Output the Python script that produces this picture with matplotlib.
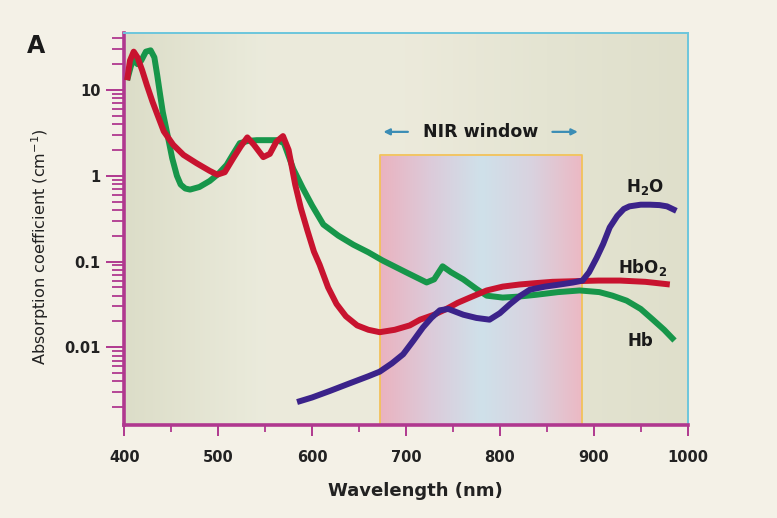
import numpy as np
import matplotlib.pyplot as plt
from matplotlib.colors import LinearSegmentedColormap
from matplotlib.ticker import LogLocator, NullFormatter, FixedLocator

# values (wavelength in nm, absorption coefficient in 1/cm)
hb_nm = [403, 407, 410, 414, 418, 423, 428, 432, 435, 438, 441, 446, 451, 456, 460, 465, 470, 480, 491,
         500, 509, 516, 523, 532, 541, 552, 563, 570, 580, 590, 600, 612, 628, 644,
         660, 675, 700, 722, 730, 739, 748, 761, 775, 786, 803, 820, 839, 862, 885,
         906, 920, 935, 950, 963, 975, 986]
hb_val = [13.0, 19.0, 23.0, 20.0, 22.0, 28.0, 29.0, 24.0, 15.0, 9.0, 5.5, 3.0, 1.6, 1.0, 0.79, 0.71, 0.69, 0.74, 0.87,
          1.05, 1.34, 1.8, 2.4, 2.55, 2.6, 2.6, 2.6, 2.4, 1.2, 0.72, 0.45, 0.27, 0.2, 0.157,
          0.128, 0.103, 0.075, 0.057, 0.062, 0.088, 0.075, 0.062, 0.048, 0.040, 0.038, 0.039, 0.041, 0.044, 0.046,
          0.044, 0.040, 0.035, 0.028, 0.021, 0.016, 0.012]

hbo2_nm = [403, 406, 410, 414, 419, 424, 430, 436, 442, 452, 463, 477, 491, 499, 507,
           516, 524, 531, 538, 548, 555, 562, 569, 575, 582, 588, 595, 602, 608, 617,
           626, 636, 648, 660, 672, 688, 704, 715, 730, 743, 755, 768, 786, 803, 821,
           838, 856, 880, 905, 928, 955, 981]
hbo2_val = [13.0, 22.0, 28.0, 24.0, 17.0, 11.4, 7.3, 4.9, 3.3, 2.3, 1.75, 1.4, 1.14, 1.03, 1.1,
            1.6, 2.2, 2.8, 2.3, 1.65, 1.8, 2.5, 2.9, 2.0, 0.79, 0.42, 0.23, 0.13, 0.092, 0.05,
            0.032, 0.023, 0.018, 0.016, 0.015, 0.016, 0.018, 0.021, 0.024, 0.028, 0.033, 0.038, 0.046, 0.051, 0.054,
            0.056, 0.058, 0.059, 0.060, 0.060, 0.058, 0.054]

h2o_nm = [584, 600, 619, 640, 660, 672, 685, 697, 708, 718, 727, 736, 745, 761, 775,
          789, 800, 811, 822, 832, 848, 864, 878, 888, 895, 903, 910, 917, 925, 932,
          938, 950, 960, 970, 978, 988]
h2o_val = [0.0023, 0.0026, 0.0031, 0.0038, 0.0046, 0.0052, 0.0065, 0.0083, 0.012, 0.017, 0.022, 0.027, 0.028, 0.024, 0.022,
           0.021, 0.025, 0.032, 0.040, 0.047, 0.051, 0.054, 0.057, 0.060, 0.075, 0.11, 0.16, 0.25, 0.34, 0.41,
           0.44, 0.46, 0.46, 0.455, 0.44, 0.39]

nir_lo, nir_hi, nir_top = 672, 888, 1.75
x_ticks = [400, 500, 600, 700, 800, 900, 1000]
y_ticks = [0.01, 0.1, 1, 10]
y_tick_labels = ['0.01', '0.1', '1', '10']

magenta = '#b0388f'
cyan = '#6cc6dc'

fig = plt.figure(figsize=(7.77, 5.18), dpi=100, facecolor='#f4f1e7')
ax = fig.add_axes([0.160, 0.180, 0.725, 0.756])
ax.set_yscale('log')
ax.set_xlim(400, 1000)
ax.set_ylim(0.00125, 46)

# plot area background, slightly lighter in the middle
bg = LinearSegmentedColormap.from_list('bg', ['#dcddc8', '#ebebdc', '#eceadb', '#e4e4d2', '#dfdfcb'])
ax.imshow(np.linspace(0, 1, 256).reshape(1, -1), cmap=bg, aspect='auto',
          extent=[0, 1, 0, 1], transform=ax.transAxes, zorder=0)

# NIR window box with pink-blue-pink gradient
nir = LinearSegmentedColormap.from_list('nir', ['#eab3c0', '#dccbda', '#cfe1ea', '#d9d2df', '#ecb8c3'])
ax.imshow(np.linspace(0, 1, 256).reshape(1, -1), cmap=nir, aspect='auto',
          extent=[nir_lo, nir_hi, 0.00125, nir_top], zorder=1, interpolation='bilinear')
ax.plot([nir_lo, nir_lo, nir_hi, nir_hi], [0.00125, nir_top, nir_top, 0.00125],
        color='#f2c25a', lw=1.3, zorder=2)

ax.text(779, 3.25, 'NIR window', ha='center', va='center', fontsize=12.5, fontweight='bold', color='#1a1a1a')
ax.annotate('', xy=(673, 3.25), xytext=(705, 3.25),
            arrowprops=dict(arrowstyle='-|>', color='#3b8db5', lw=1.6, mutation_scale=9))
ax.annotate('', xy=(886, 3.25), xytext=(853, 3.25),
            arrowprops=dict(arrowstyle='-|>', color='#3b8db5', lw=1.6, mutation_scale=9))

kw = dict(lw=4.3, solid_capstyle='butt', solid_joinstyle='round')
ax.plot(hb_nm, hb_val, color='#17964a', zorder=3, **kw)
ax.plot(hbo2_nm, hbo2_val, color='#c8132f', zorder=4, **kw)
ax.plot(h2o_nm, h2o_val, color='#3b238a', zorder=5, **kw)

ax.text(955, 0.74, 'H$_\\mathbf{2}$O', ha='center', va='center', fontsize=12, fontweight='bold', color='#1a1a1a')
ax.text(952, 0.086, 'HbO$_\\mathbf{2}$', ha='center', va='center', fontsize=12, fontweight='bold', color='#1a1a1a')
ax.text(950, 0.0118, 'Hb', ha='center', va='center', fontsize=12, fontweight='bold', color='#1a1a1a')

for s in ['left', 'bottom']:
    ax.spines[s].set_color(magenta)
    ax.spines[s].set_linewidth(2.6)
for s in ['top', 'right']:
    ax.spines[s].set_color(cyan)
    ax.spines[s].set_linewidth(1.4)

ax.set_xticks(x_ticks)
ax.xaxis.set_minor_locator(FixedLocator([450, 550, 650, 750, 850, 950]))
ax.set_yticks(y_ticks)
ax.set_yticklabels(y_tick_labels)
ax.yaxis.set_minor_locator(LogLocator(base=10, subs=np.arange(2, 10)))
ax.yaxis.set_minor_formatter(NullFormatter())
ax.tick_params(axis='both', which='major', colors=magenta, width=1.4, labelcolor='#222222', labelsize=10.5)
ax.tick_params(axis='y', which='major', length=13, pad=4)
ax.tick_params(axis='y', which='minor', length=9, width=1.3, colors=magenta)
ax.tick_params(axis='x', which='major', length=8, pad=10)
ax.tick_params(axis='x', which='minor', length=5, width=1.3, colors=magenta)
for lab in ax.get_xticklabels() + ax.get_yticklabels():
    lab.set_fontweight('bold')

ax.set_xlabel('Wavelength (nm)', fontsize=13, fontweight='bold', color='#222222')
ax.xaxis.set_label_coords(0.516, -0.145)
ax.set_ylabel('Absorption coefficient (cm$^{-1}$)', fontsize=11.6, color='#222222')
ax.yaxis.set_label_coords(-0.13, 0.455)
fig.text(0.035, 0.912, 'A', fontsize=17, fontweight='bold', color='#1a1a1a', va='center')

fig.savefig('out.png', dpi=100, facecolor=fig.get_facecolor())
